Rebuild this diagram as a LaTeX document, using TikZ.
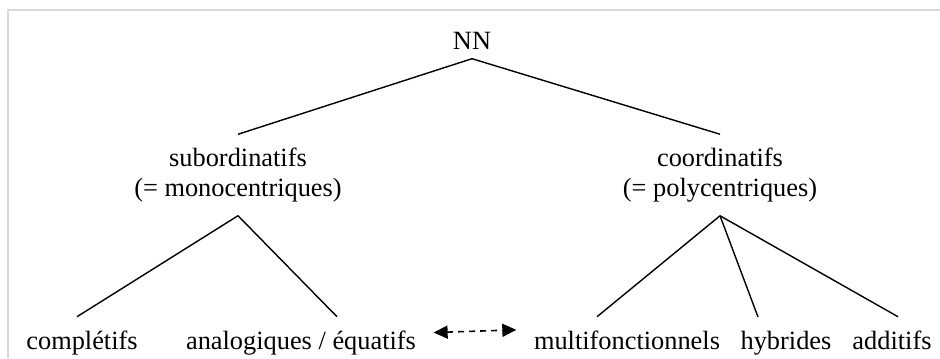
\documentclass[tikz,border=0pt]{standalone}
\usepackage{fontspec}
\setmainfont{Liberation Serif}
\usetikzlibrary{arrows.meta,positioning}
\begin{document}
\begin{tikzpicture}[line width=0.8pt, main node/.style={anchor=base, inner xsep=0.34cm, inner ysep=0.26cm}, level node/.style={align=center, inner sep=0.26cm}]
        \tikzstyle{every node}=[font=\fontsize{15}{17}\selectfont]
        \useasboundingbox (0,0) rectangle (18.8,7.16);
        \draw[line width=1.2pt, gray!30] (0.16,0) -- (0.16,6.96) -- (18.8,6.96);

          \node[anchor=base, inner sep=0.16cm] (1) at (9.44,6.16) {NN};
          \node[level node] (2) at (4.76,3.66) {subordinatifs\\(= monocentriques)};
          \node[level node] (3) at (14.40,3.66) {coordinatifs\\(= polycentriques)};
          \node[main node] (4) at (1.64,0.18) {complétifs};
          \node[main node] (5) at (6.02,0.18) {analogiques / équatifs};
          \node[main node] (6) at (12.54,0.18) {multifonctionnels};
          \node[main node] (7) at (15.72,0.18) {hybrides};
          \node[main node] (8) at (17.84,0.18) {additifs};

          \path
            (1.south) edge (2.north)
                      edge (3.north)
            (2.south) edge ([xshift=-0.1cm]4.north)
                      edge ([xshift=0.72cm]5.north)
            (3.south) edge ([xshift=-0.6cm]6.north)
                      edge ([xshift=-0.56cm]7.north)
                      edge ([xshift=0.12cm]8.north);
          \draw[{Triangle[length=0.28cm,width=0.26cm]}-{Triangle[length=0.28cm,width=0.26cm]}, line width=0.9pt, dash pattern=on 0.12cm off 0.1cm]
            ([yshift=0.2cm]5.east) -- ([yshift=0.2cm]6.west);

        \end{tikzpicture}
\end{document}
